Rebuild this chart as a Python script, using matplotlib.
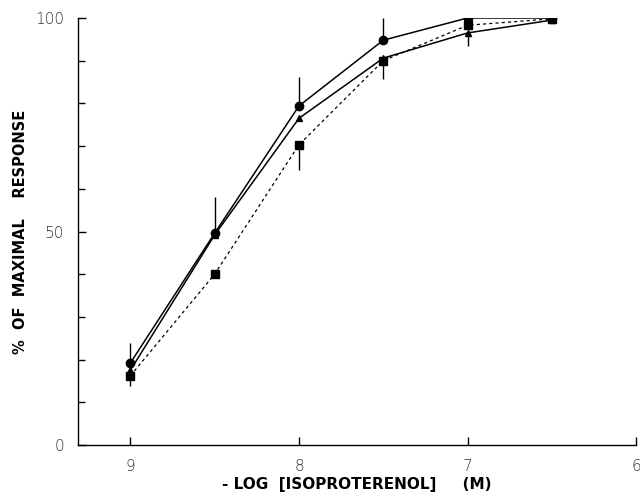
import matplotlib
matplotlib.use("Agg")
import matplotlib.pyplot as plt
import numpy as np

x = [9, 8.5, 8, 7.5, 7, 6.5]
circle = [19.2, 49.6, 79.4, 94.8, 100, 100]
circle_err_up = [4.8, 8.5, 6.8, 5.2, 0, 0]
triangle = [17.5, 49.2, 76.5, 90.6, 96.5, 99.5]
triangle_err_dn = [0, 0, 0, 5.0, 3.0, 0]
square = [16.2, 40.0, 70.3, 90.0, 98.3, 99.8]
square_err_dn = [2.4, 0, 6.0, 0, 0, 0]

fig = plt.figure(figsize=(6.4, 4.97), dpi=100)
ax = fig.add_axes([0.122, 0.1046, 0.872, 0.8592])

lw = 1.1
ax.errorbar(x, circle, yerr=[np.zeros(len(x)), circle_err_up], fmt='none', ecolor='black', elinewidth=1.0, capsize=0)
ax.errorbar(x, triangle, yerr=[triangle_err_dn, np.zeros(len(x))], fmt='none', ecolor='black', elinewidth=1.0, capsize=0)
ax.errorbar(x, square, yerr=[square_err_dn, np.zeros(len(x))], fmt='none', ecolor='black', elinewidth=1.0, capsize=0)
ax.plot(x, circle, '-', color='black', lw=lw, marker='o', ms=6)
ax.plot(x, triangle, '-', color='black', lw=lw, marker='^', ms=5)
ax.plot(x, square, color='black', lw=0.9, ls=(0, (2.5, 2.5)), marker='s', ms=6)

ax.set_xlim(9.31, 6.0)
ax.set_ylim(0, 100)
ax.spines['top'].set_visible(False)
ax.spines['right'].set_visible(False)
ax.spines['left'].set_linewidth(1.0)
ax.spines['bottom'].set_linewidth(1.0)

ax.set_xticks([9, 8, 7, 6])
ax.set_xticklabels(['9', '8', '7', '6'])
ax.set_yticks([0, 50, 100])
ax.set_yticks(np.arange(0, 101, 10), minor=True)
ax.set_yticklabels(['0', '50', '100'])
ax.tick_params(axis='both', direction='in', length=6, width=1.0, labelsize=11, colors='black')
ax.tick_params(axis='y', which='minor', direction='in', length=5, width=1.0)
ax.tick_params(axis='x', pad=10)
ax.tick_params(axis='y', pad=10)
for t in ax.get_xticklabels() + ax.get_yticklabels():
    t.set_fontweight('light')
    t.set_color('#333333')

ax.set_xlabel('- LOG  [ISOPROTERENOL]     (M)', fontsize=11, fontweight='bold', labelpad=2)
ax.set_ylabel('%  OF  MAXIMAL    RESPONSE', fontsize=10.5, fontweight='bold', labelpad=12)
ax.yaxis.set_label_coords(-0.09, 0.5)

fig.savefig('out.png', dpi=100)
